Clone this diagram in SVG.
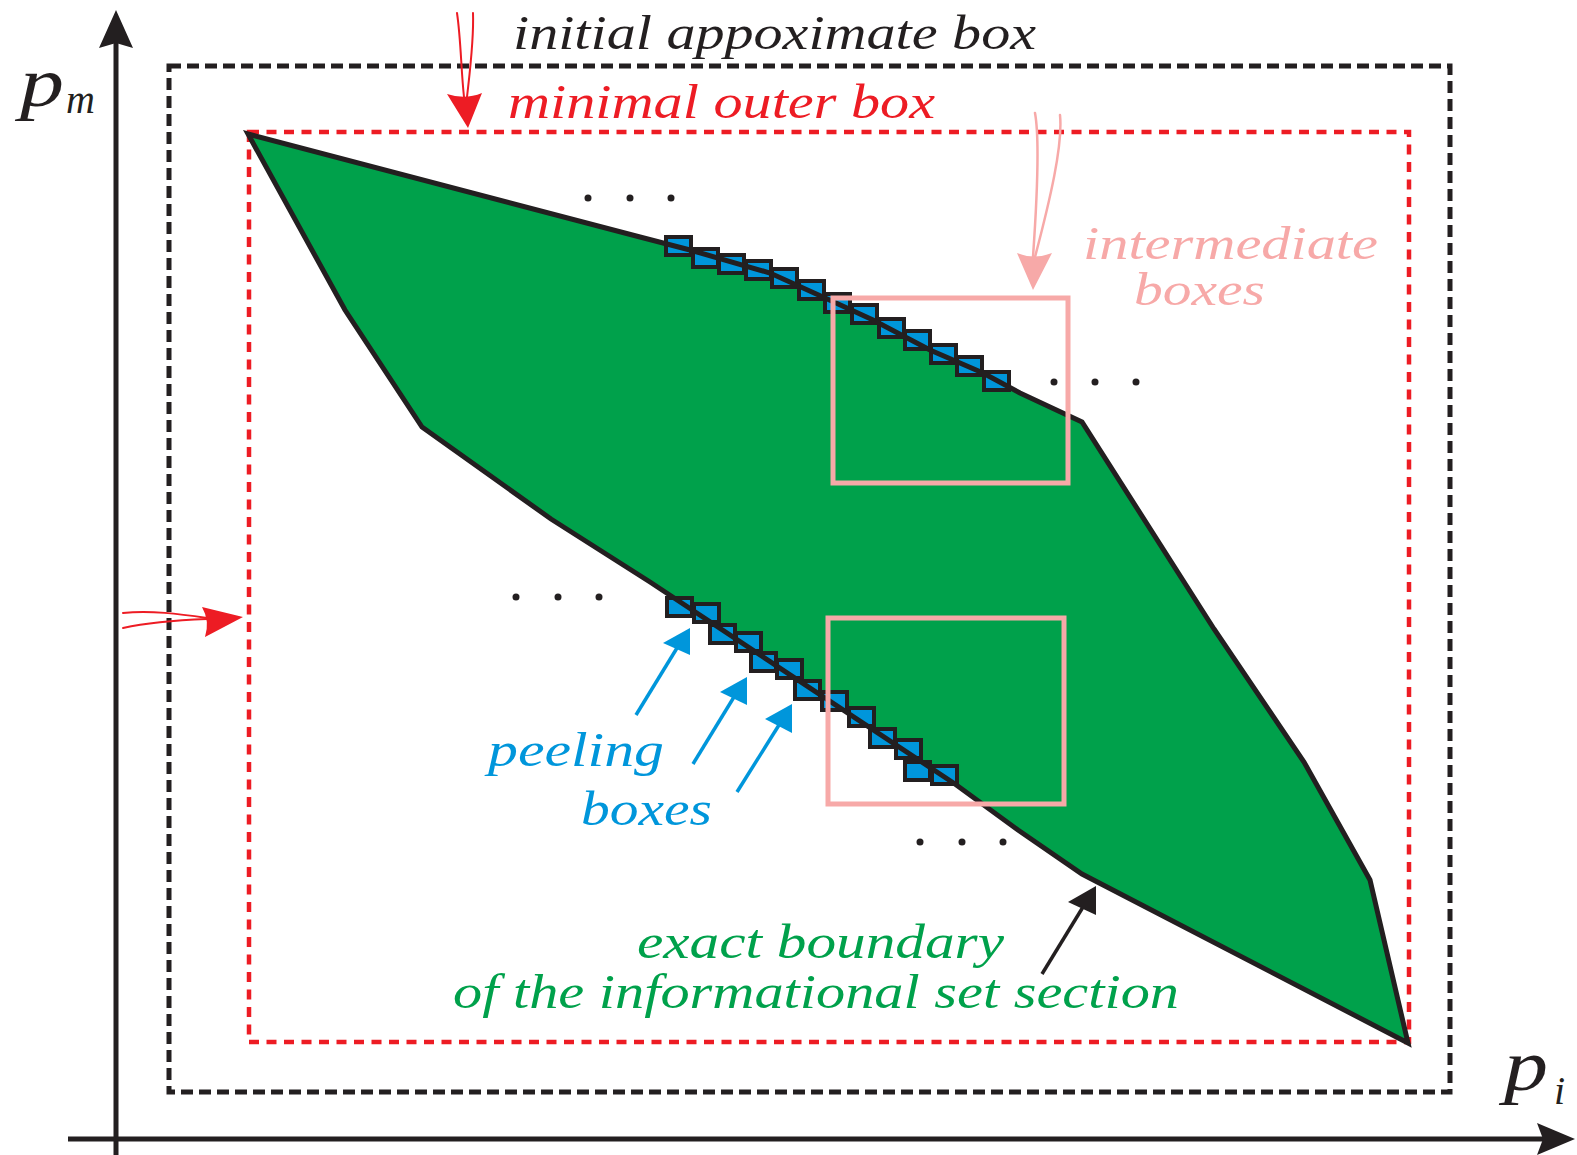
<svg xmlns="http://www.w3.org/2000/svg" width="1577" height="1155" viewBox="0 0 1577 1155">
<style>
.t { font-family: 'Liberation Serif', 'Times New Roman', 'DejaVu Serif', serif; font-style: italic; font-weight: normal; }
.lbl { font-size: 49px; }
.lbl2 { font-size: 46px; }
.peel { fill: #0096DB; stroke: #231F20; stroke-width: 4; }
.pinkbox { fill: none; stroke: #F7A9A8; stroke-width: 5; }
.dot { fill: #231F20; }
.thinred { fill: none; stroke: #ED1C24; stroke-width: 2; stroke-linecap: round; }
.thinpink { fill: none; stroke: #F7A9A8; stroke-width: 2.5; stroke-linecap: round; }
.blueline { stroke: #0096DB; stroke-width: 3.5; }
</style>

<g id="axes">
  <line x1="116" y1="1155" x2="116" y2="40" stroke="#231F20" stroke-width="5"/>
  <path d="M116,10 L133,48 L116,43 L99,48 Z" fill="#231F20"/>
  <line x1="68" y1="1139" x2="1545" y2="1139" stroke="#231F20" stroke-width="5"/>
  <path d="M1575,1139 L1537,1123 L1543,1139 L1537,1155 Z" fill="#231F20"/>
  <text class="t" x="20" y="106" font-size="70" fill="#231F20" textLength="44" lengthAdjust="spacingAndGlyphs">p</text>
  <text class="t" x="66" y="113" font-size="40" fill="#231F20">m</text>
  <text class="t" x="1504" y="1090" font-size="72" fill="#231F20" textLength="44" lengthAdjust="spacingAndGlyphs">p</text>
  <text class="t" x="1554" y="1104" font-size="40" fill="#231F20">i</text>
</g>

<g id="initial-box">
  <rect x="169" y="66" width="1281" height="1026" fill="none" stroke="#231F20" stroke-width="5" stroke-dasharray="12 6"/>
</g>

<g id="outer-box">
  <rect x="249" y="132" width="1160" height="910" fill="none" stroke="#ED1C24" stroke-width="4.5" stroke-dasharray="10 7.5"/>
</g>

<g id="informational-set">
  <path id="setfill" d="M248,134 L640,237 L690,250 L770,273 L823,297 L873,320 L930,350 L983,373 L1020,393 L1082,422 L1214,629 L1304,762 L1370,880 L1408,1043 L1082,874 L1018,830 L955,784 L650,582 L551,519 L422,427 L345,310 Z" fill="#00A14B"/>
</g>

<g id="peeling-boxes-upper">
  <rect class="peel" x="666" y="237" width="25" height="18"/>
  <rect class="peel" x="693" y="249" width="25" height="18"/>
  <rect class="peel" x="719" y="255" width="25" height="18"/>
  <rect class="peel" x="746" y="261" width="25" height="18"/>
  <rect class="peel" x="772" y="269" width="25" height="18"/>
  <rect class="peel" x="799" y="281" width="25" height="18"/>
  <rect class="peel" x="825" y="294" width="25" height="18"/>
  <rect class="peel" x="852" y="305" width="25" height="18"/>
  <rect class="peel" x="879" y="319" width="25" height="18"/>
  <rect class="peel" x="905" y="331" width="25" height="18"/>
  <rect class="peel" x="931" y="345" width="25" height="18"/>
  <rect class="peel" x="957" y="357" width="25" height="18"/>
  <rect class="peel" x="984" y="372" width="25" height="18"/>
</g>

<g id="peeling-boxes-lower">
  <rect class="peel" x="667" y="598" width="25" height="18"/>
  <rect class="peel" x="694" y="604" width="25" height="18"/>
  <rect class="peel" x="710" y="625" width="25" height="18"/>
  <rect class="peel" x="736" y="633" width="25" height="18"/>
  <rect class="peel" x="751" y="653" width="25" height="18"/>
  <rect class="peel" x="777" y="660" width="25" height="18"/>
  <rect class="peel" x="795" y="681" width="25" height="18"/>
  <rect class="peel" x="822" y="692" width="25" height="18"/>
  <rect class="peel" x="849" y="708" width="25" height="18"/>
  <rect class="peel" x="870" y="729" width="25" height="18"/>
  <rect class="peel" x="896" y="740" width="25" height="18"/>
  <rect class="peel" x="905" y="762" width="25" height="18"/>
  <rect class="peel" x="932" y="766" width="25" height="18"/>
</g>

<g id="set-boundary">
  <path d="M248,134 L640,237 L690,250 L770,273 L823,297 L873,320 L930,350 L983,373 L1020,393 L1082,422 L1214,629 L1304,762 L1370,880 L1408,1043 L1082,874 L1018,830 L955,784 L650,582 L551,519 L422,427 L345,310 Z" fill="none" stroke="#231F20" stroke-width="5" stroke-linejoin="miter"/>
</g>

<g id="intermediate-boxes">
  <rect class="pinkbox" x="833" y="298" width="235" height="185"/>
  <rect class="pinkbox" x="828" y="618" width="236" height="186"/>
</g>

<g id="dots">
  <circle class="dot" cx="588" cy="198" r="3.5"/>
  <circle class="dot" cx="630" cy="198" r="3.5"/>
  <circle class="dot" cx="671" cy="198" r="3.5"/>
  <circle class="dot" cx="1054" cy="382" r="3.5"/>
  <circle class="dot" cx="1095" cy="382" r="3.5"/>
  <circle class="dot" cx="1136" cy="382" r="3.5"/>
  <circle class="dot" cx="516" cy="597" r="3.5"/>
  <circle class="dot" cx="558" cy="597" r="3.5"/>
  <circle class="dot" cx="599" cy="597" r="3.5"/>
  <circle class="dot" cx="920" cy="842" r="3.5"/>
  <circle class="dot" cx="962" cy="842" r="3.5"/>
  <circle class="dot" cx="1003" cy="842" r="3.5"/>
</g>

<g id="connectors">
  <g id="arrow-top-red">
    <path class="thinred" d="M457,13 C461,40 461,70 464,97"/>
    <path class="thinred" d="M473,13 C474,40 470,70 467,97"/>
    <path d="M447,94 L468,128 L482,93 Q465,100 447,94 Z" fill="#ED1C24"/>
  </g>
  <g id="arrow-left-red">
    <path class="thinred" d="M123,613 C150,610 180,614 207,618"/>
    <path class="thinred" d="M123,628 C150,622 180,620 207,619"/>
    <path d="M202,607 L243,617 L205,637 Q210,621 202,607 Z" fill="#ED1C24"/>
  </g>
  <g id="arrow-pink">
    <path class="thinpink" d="M1035,113 C1040,140 1037,200 1033,257"/>
    <path class="thinpink" d="M1060,115 C1063,145 1050,200 1035,257"/>
    <path d="M1017,253 L1033,290 L1052,253 Q1034,260 1017,253 Z" fill="#F7A9A8"/>
  </g>
  <g id="arrows-blue">
    <line class="blueline" x1="636" y1="715" x2="677" y2="648"/>
    <path d="M690,628 L663,643 L690,655 Z" fill="#0096DB"/>
    <line class="blueline" x1="693" y1="764" x2="734" y2="697"/>
    <path d="M747,677 L720,692 L747,705 Z" fill="#0096DB"/>
    <line class="blueline" x1="737" y1="792" x2="779" y2="725"/>
    <path d="M792,704 L765,719 L792,733 Z" fill="#0096DB"/>
  </g>
  <g id="arrow-black">
    <line x1="1042" y1="974" x2="1083" y2="907" stroke="#231F20" stroke-width="3.5"/>
    <path d="M1096,886 L1068,902 L1096,915 Z" fill="#231F20"/>
  </g>
</g>

<g id="labels">
  <text class="t lbl" x="513" y="49" fill="#231F20" textLength="523" lengthAdjust="spacingAndGlyphs">initial appoximate box</text>
  <text class="t lbl" x="508" y="118" fill="#ED1C24" textLength="427" lengthAdjust="spacingAndGlyphs">minimal outer box</text>
  <text class="t lbl2" x="1083" y="259" fill="#F7A9A8" textLength="295" lengthAdjust="spacingAndGlyphs">intermediate</text>
  <text class="t lbl2" x="1134" y="305" fill="#F7A9A8" textLength="131" lengthAdjust="spacingAndGlyphs">boxes</text>
  <text class="t lbl" x="488" y="766" fill="#0096DB" textLength="176" lengthAdjust="spacingAndGlyphs">peeling</text>
  <text class="t lbl" x="581" y="825" fill="#0096DB" textLength="131" lengthAdjust="spacingAndGlyphs">boxes</text>
  <text class="t lbl" x="637" y="958" fill="#00A14B" textLength="367" lengthAdjust="spacingAndGlyphs">exact boundary</text>
  <text class="t lbl" x="453" y="1008" fill="#00A14B" textLength="726" lengthAdjust="spacingAndGlyphs">of the informational set section</text>
</g>
</svg>
